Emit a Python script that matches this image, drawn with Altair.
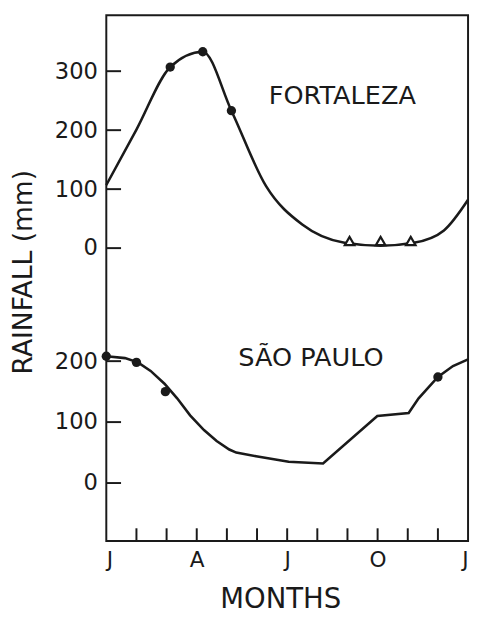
import altair as alt
import pandas as pd

INK = "#1a1a1a"
FONT = "DejaVu Sans"

# x axis: months (0 = January ... 12 = next January)
month_ticks = [1, 2, 3, 4, 5, 6, 7, 8, 9, 10, 11]
label_months = [0, 3, 6, 9, 12]
month_labels = ["J", "A", "J", "O", "J"]

# Fortaleza (upper curve)
fort_curve_month = [0, 1.0, 2.12, 3.2, 4.15, 5.3, 6.5, 7.9, 9.1, 10.2, 11.2, 12]
fort_curve_mm = [107, 201, 307, 333, 233, 105, 40, 9, 4, 9, 30, 82]
fort_dot_month = [2.12, 3.2, 4.15]
fort_dot_mm = [307, 333, 233]
fort_tri_month = [8.07, 9.1, 10.1]
fort_tri_mm = [12, 12, 12]
fort_ticks = [0, 100, 200, 300]

# Sao Paulo (lower curve)
sp_curve_month = [0, 0.62, 1.05, 1.47, 1.93, 2.35, 2.78, 3.24, 3.66, 4.08, 4.31, 4.97, 6.05, 7.19, 8.99, 10.03, 10.36, 11.0, 11.5, 12]
sp_curve_mm = [208, 205, 198, 184, 163, 139, 111, 87, 69, 55, 50, 44, 35, 32, 110, 115, 139, 174, 192, 203]
sp_dot_month = [0.0, 1.0, 1.96, 11.0]
sp_dot_mm = [208, 198, 150, 174]
sp_ticks = [0, 100, 200]

names = ["FORTALEZA", "SÃO PAULO"]
name_month = [5.39, 4.38]
name_mm = [245, 192]

W, H = 368, 535
TICK = 15
TICK_MONTHS = TICK * 12 / W  # length of an inward y tick on the month scale

F_DOMAIN = [-496.7, 395]
SP_DOMAIN = [-95.2, 767.7]

label_expr = "[" + ",".join("'%s'" % s for s in month_labels) + "][round(datum.value/3)]"
x_enc = alt.X(
    "month:Q",
    scale=alt.Scale(domain=[0, 12], nice=False, zero=False),
    axis=alt.Axis(
        values=label_months, labelExpr=label_expr, ticks=False, domain=False, grid=False,
        labelPadding=9, labelFontSize=22, labelFont=FONT, labelColor=INK,
        title="MONTHS", titleFont=FONT, titleFontSize=28, titleFontWeight="normal",
        titleColor=INK, titleX=177, titleY=60, titleBaseline="middle", titleAlign="center",
    ),
)

F_SCALE = alt.Scale(domain=F_DOMAIN, nice=False, zero=False)
SP_SCALE = alt.Scale(domain=SP_DOMAIN, nice=False, zero=False)

yF_axis = alt.Y(
    "mm:Q", scale=F_SCALE,
    axis=alt.Axis(
        values=fort_ticks, orient="left", ticks=False, domain=False, grid=False,
        labelPadding=9, labelFontSize=23, labelFont=FONT, labelColor=INK,
        title="RAINFALL (mm)", titleFont=FONT, titleFontSize=27, titleFontWeight="normal",
        titleColor=INK, titleAngle=270, titleX=-84, titleY=261,
        titleBaseline="middle", titleAlign="center",
    ),
)
yF = alt.Y("mm:Q", scale=F_SCALE, axis=None)
ySP_axis = alt.Y(
    "mm:Q", scale=SP_SCALE,
    axis=alt.Axis(
        values=sp_ticks, orient="left", ticks=False, domain=False, grid=False,
        labelPadding=9, labelFontSize=23, labelFont=FONT, labelColor=INK, title=None,
    ),
)
ySP = alt.Y("mm:Q", scale=SP_SCALE, axis=None)

fort_line = alt.Chart(pd.DataFrame({"month": fort_curve_month, "mm": fort_curve_mm})).mark_line(
    color=INK, strokeWidth=2.6, interpolate="monotone"
).encode(x=x_enc, y=yF_axis)
fort_dots = alt.Chart(pd.DataFrame({"month": fort_dot_month, "mm": fort_dot_mm})).mark_point(
    shape="circle", filled=True, color=INK, size=90, opacity=1
).encode(x=x_enc, y=yF)
fort_tri = alt.Chart(pd.DataFrame({"month": fort_tri_month, "mm": fort_tri_mm})).mark_point(
    shape="triangle-up", filled=True, fill="white", stroke=INK, strokeWidth=2.2, size=95, opacity=1
).encode(x=x_enc, y=yF)
fort_name = alt.Chart(pd.DataFrame({"month": [name_month[0]], "mm": [name_mm[0]], "t": [names[0]]})).mark_text(
    align="left", baseline="alphabetic", font=FONT, fontSize=26, color=INK
).encode(x=x_enc, y=yF, text="t:N")

sp_line = alt.Chart(pd.DataFrame({"month": sp_curve_month, "mm": sp_curve_mm})).mark_line(
    color=INK, strokeWidth=2.6, interpolate="linear"
).encode(x=x_enc, y=ySP_axis)
sp_dots = alt.Chart(pd.DataFrame({"month": sp_dot_month, "mm": sp_dot_mm})).mark_point(
    shape="circle", filled=True, color=INK, size=90, opacity=1
).encode(x=x_enc, y=ySP)
sp_name = alt.Chart(pd.DataFrame({"month": [name_month[1]], "mm": [name_mm[1]], "t": [names[1]]})).mark_text(
    align="left", baseline="alphabetic", font=FONT, fontSize=26, color=INK
).encode(x=x_enc, y=ySP, text="t:N")

x_ticks = alt.Chart(pd.DataFrame({"month": month_ticks})).mark_rule(
    color=INK, strokeWidth=2
).encode(x=x_enc, y=alt.value(H), y2=alt.value(H - 13))


def y_tick_rules(values, domain):
    # inward y ticks, placed with the same linear mapping as that curve's y scale
    lo, hi = domain
    rules = []
    for v in values:
        py = (hi - v) / (hi - lo) * H
        rules.append(
            alt.Chart(pd.DataFrame({"month": [0.0], "month2": [TICK_MONTHS]})).mark_rule(
                color=INK, strokeWidth=2
            ).encode(x=x_enc, x2="month2:Q", y=alt.value(py))
        )
    return rules


chart = alt.layer(
    fort_line, fort_dots, fort_tri, fort_name,
    sp_line, sp_dots, sp_name, x_ticks,
    *y_tick_rules(fort_ticks, F_DOMAIN),
    *y_tick_rules(sp_ticks, SP_DOMAIN),
).resolve_scale(y="independent").properties(
    width=W, height=H,
    padding={"left": 100, "top": 2, "right": 3, "bottom": 74},
    autosize=alt.AutoSizeParams(type="none"),
    background="white",
).configure_view(stroke=INK, strokeWidth=2)

chart.save("out.html", embed_options={"renderer": "svg", "actions": False})
